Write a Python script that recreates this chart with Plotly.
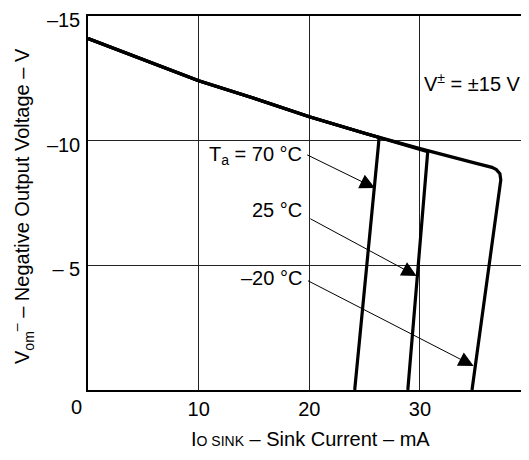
import plotly.graph_objects as go

# --- data ---
# common saturation envelope (sink current mA, output voltage V)
env_i = [0, 5, 10, 15, 20, 25, 30, 35, 36.5]
env_v = [-14.10, -13.24, -12.40, -11.70, -10.96, -10.30, -9.68, -9.10, -8.93]

# where each temperature curve leaves the envelope and drops to 0 V
drop_70_i = [26.3, 26.25, 24.1]
drop_70_v = [-10.13, -9.85, 0]
drop_25_i = [30.7, 30.65, 28.9]
drop_25_v = [-9.56, -9.3, 0]
drop_m20_i = [36.9, 37.22, 37.3, 34.7]
drop_m20_v = [-8.84, -8.68, -8.42, 0]

x_ticks = [10, 20, 30]
y_ticks = [-15, -10, -5]
y_tick_text = ["\u201315", "\u201310", "\u2013 5"]

FONT = "Liberation Sans, Arial, sans-serif"
W, H = 529, 460
# the page body has an 8px margin, so the figure sits 8px right/down
PAD = 8
PLOT_L, PLOT_T, PLOT_R, PLOT_B = 88, 16, 529, 390   # wanted plot box on the page
L, T = PLOT_L - PAD, PLOT_T - PAD
R, B = W - (PLOT_R - PAD), H - (PLOT_B - PAD)


def branch(drop_i, drop_v):
    xs = [i for i in env_i if i < drop_i[0]]
    ys = [v for i, v in zip(env_i, env_v) if i < drop_i[0]]
    return xs + drop_i, ys + drop_v


fig = go.Figure()
for di, dv in [(drop_70_i, drop_70_v), (drop_25_i, drop_25_v), (drop_m20_i, drop_m20_v)]:
    xs, ys = branch(di, dv)
    fig.add_trace(go.Scatter(x=xs, y=ys, mode="lines",
                             line=dict(color="black", width=3.2),
                             hoverinfo="skip", showlegend=False))


def px_to_paper(px, py):
    return (px - PLOT_L) / (PLOT_R - PLOT_L), (PLOT_B - py) / (PLOT_B - PLOT_T)


# curve labels with arrows
labels = [
    ("T<sub>a</sub> = 70 \u00b0C", -9.42, (19.67, -9.46), (25.93, -8.10)),
    ("25 \u00b0C", -7.22, (19.96, -6.90), (29.70, -4.57)),
    ("\u201320 \u00b0C", -4.49, (19.75, -4.41), (34.85, -0.96)),
]
for txt, ty, tail, tip in labels:
    fig.add_annotation(x=19.5, y=ty, text=txt, showarrow=False,
                       xanchor="right", yanchor="middle",
                       font=dict(size=20, color="black", family=FONT))
    fig.add_annotation(x=tip[0], y=tip[1], ax=tail[0], ay=tail[1],
                       axref="x", ayref="y", text="", showarrow=True,
                       arrowhead=2, arrowsize=3, arrowwidth=1,
                       arrowcolor="black", standoff=0)

fig.add_annotation(x=30.17, y=-12.35, text="V<sup>\u00b1</sup> = \u00b115 V",
                   showarrow=False, xanchor="left", yanchor="middle",
                   font=dict(size=20, color="black", family=FONT))

# axis titles and the lone "0"
px, py = px_to_paper(22, 206)
fig.add_annotation(x=px, y=py, xref="paper", yref="paper", textangle=-90,
                   xanchor="center", yanchor="middle",
                   text="V<sub>om</sub><sup>\u2013</sup> \u2013 Negative Output Voltage \u2013 V",
                   showarrow=False, font=dict(size=20, color="black", family=FONT))
px, py = px_to_paper(310, 439)
fig.add_annotation(x=px, y=py, xref="paper", yref="paper",
                   xanchor="center", yanchor="middle",
                   text="I<span style='font-size:14px'>O SINK</span> \u2013 Sink Current \u2013 mA",
                   showarrow=False, font=dict(size=20, color="black", family=FONT))
px, py = px_to_paper(76, 407)
fig.add_annotation(x=px, y=py, xref="paper", yref="paper", text="0",
                   xanchor="center", yanchor="middle",
                   showarrow=False, font=dict(size=20, color="black", family=FONT))

fig.update_xaxes(range=[0, 39.85], tickvals=x_ticks, showgrid=True,
                 gridcolor="#222", gridwidth=1, zeroline=False,
                 showline=True, linecolor="black", linewidth=1.5, mirror=True,
                 ticks="", ticklabelstandoff=0, ticklabeloverflow="allow",
                 tickfont=dict(size=20, color="black", family=FONT))
fig.update_yaxes(range=[0, -15], tickvals=y_ticks, ticktext=y_tick_text,
                 showgrid=True, gridcolor="#222", gridwidth=1, zeroline=False,
                 showline=True, linecolor="black", linewidth=1.5, mirror=False,
                 ticks="", ticklabelstandoff=2, ticklabelshift=-4,
                 ticklabeloverflow="allow",
                 tickfont=dict(size=20, color="black", family=FONT))

fig.update_layout(width=W, height=H,
                  margin=dict(l=L, r=R, t=T, b=B, autoexpand=False),
                  plot_bgcolor="white", paper_bgcolor="white")

fig.write_html("out.html")
